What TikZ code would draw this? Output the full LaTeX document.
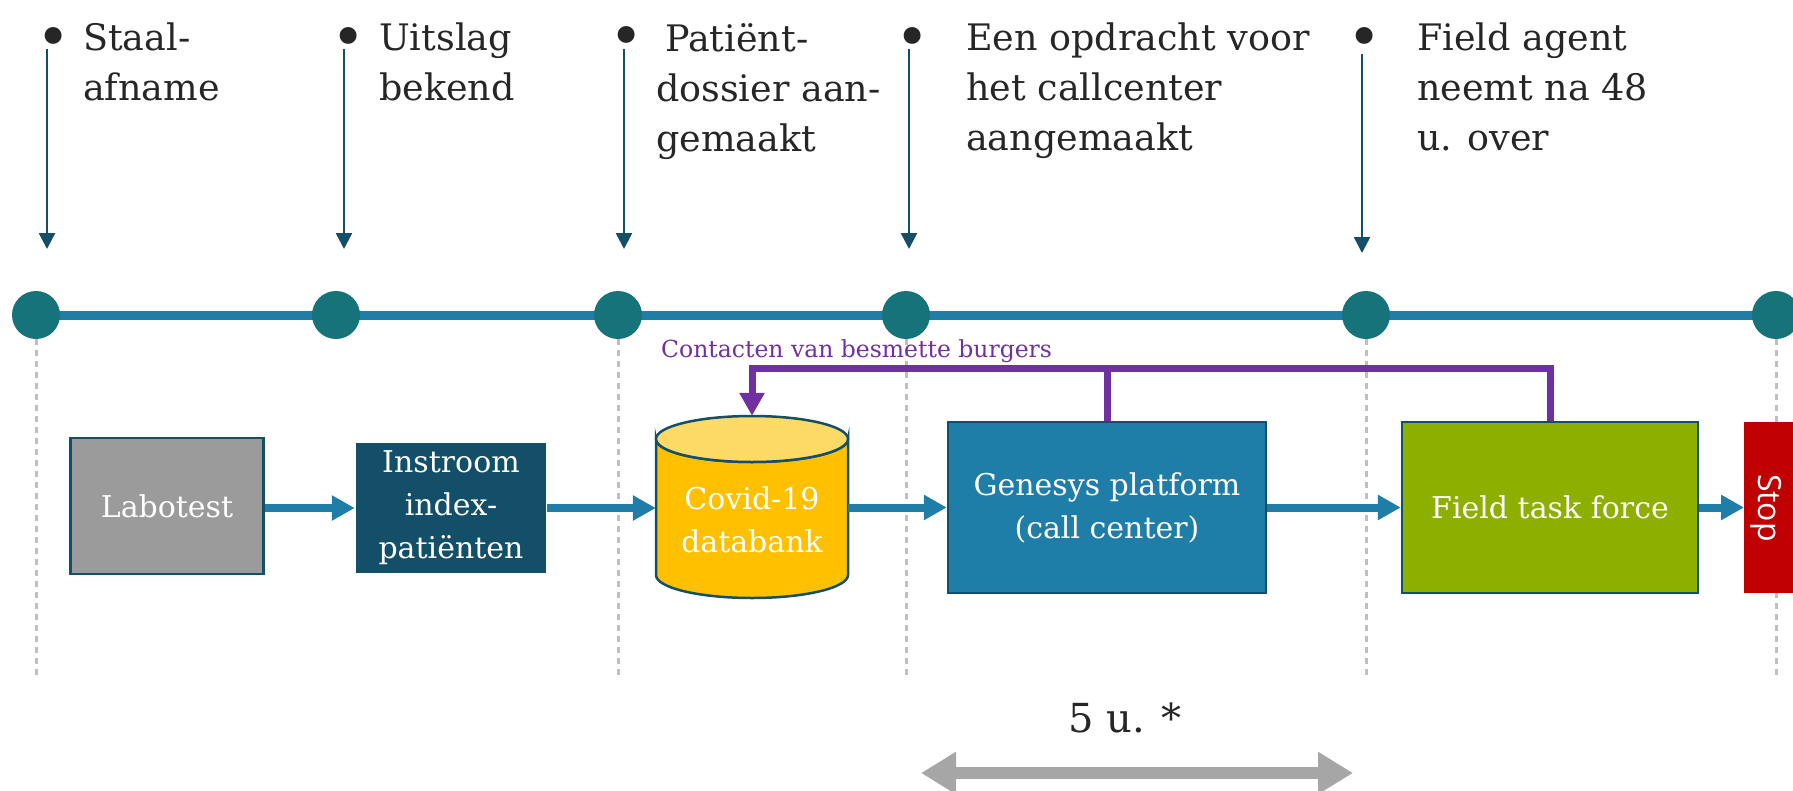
\documentclass[tikz,border=0pt]{standalone}
\usepackage{fontspec}
\setmainfont{DejaVu Serif}
\newfontfamily\stopfont{Open Sans}
\usetikzlibrary{arrows.meta,backgrounds}
\definecolor{txt}{HTML}{262626}
\definecolor{darkblue}{HTML}{134F68}
\definecolor{tealc}{HTML}{17737A}
\definecolor{lineblue}{HTML}{1F7EA8}
\definecolor{purp}{HTML}{7030A0}
\definecolor{gold}{HTML}{FFC000}
\definecolor{goldtop}{HTML}{FDD966}
\definecolor{olive}{HTML}{8CAF00}
\definecolor{stopred}{HTML}{C00000}
\definecolor{boxgrey}{HTML}{9B9B9B}
\definecolor{arrgrey}{HTML}{A6A6A6}
\definecolor{dotgrey}{HTML}{BFBFBF}
\tikzset{
  dotcircle/.style={circle, fill=tealc, minimum size=48pt, inner sep=0pt},
  toptext/.style={anchor=north west, inner sep=0pt, align=left, text=txt, font=\fontsize{36.5}{50}\selectfont},
  bul/.style={inner sep=0pt, anchor=base, text=txt, font=\fontsize{58}{58}\selectfont},
  downarrow/.style={darkblue, line width=2.5pt, -{Triangle[length=16pt,width=16pt]}},
  guide/.style={dotgrey, line width=3pt, dash pattern=on 6pt off 5pt},
  procbox/.style={rectangle, draw=darkblue, line width=2.5pt, text=white, align=center, inner sep=0pt, font=\fontsize{30}{43}\selectfont},
  flow/.style={lineblue, line width=8pt, -{Triangle[length=23pt,width=24pt]}},
  feedback/.style={purp, line width=7pt},
}
\begin{document}
\begin{tikzpicture}[x=1pt,y=-1pt]
\useasboundingbox (0,0) rectangle (1793,790);
\clip (0,0) rectangle (1793,790);

% timeline circles
\node[dotcircle] (c1) at (36,315) {};
\node[dotcircle] (c2) at (336,315) {};
\node[dotcircle] (c3) at (618,315) {};
\node[dotcircle] (c4) at (906,315) {};
\node[dotcircle] (c5) at (1366,315) {};
\node[dotcircle] (c6) at (1776,315) {};
\begin{scope}[on background layer]
\draw[lineblue, line width=9pt] (c1.center) -- (c6.center);
\end{scope}

% guide lines
\coordinate (g1) at (36,675);
\coordinate (g3) at (618,675);
\coordinate (g4) at (906,675);
\coordinate (g5) at (1366,675);
\coordinate (g6) at (1776,675);
\draw[guide] (c1.south) -- (g1);
\draw[guide] (c3.south) -- (g3);
\draw[guide] (c4.south) -- (g4);
\draw[guide] (c5.south) -- (g5);
\draw[guide] (c6.south) -- (g6);

% top texts
\node[bul] (b1) at (53.5,57) {•};
\node[bul] (b2) at (349,57) {•};
\node[bul] (b3) at (627,56) {•};
\node[bul] (b4) at (913,57) {•};
\node[bul] (b5) at (1365,57) {•};
\node[toptext] (t1) at (83,23) {Staal-\\afname};
\node[toptext] (t2) at (379,23) {Uitslag\\bekend};
\node[toptext] (t3) at (656,23) {\hspace{9pt}Patiënt-\\dossier aan-\\gemaakt};
\node[toptext] (t4) at (966,23) {Een opdracht voor\\het callcenter\\aangemaakt};
\node[toptext] (t5) at (1417,23) {Field agent\\neemt na 48\\u. over};

\coordinate (a1s) at (47,49);   \coordinate (a1e) at (47,249);
\coordinate (a2s) at (344,49);  \coordinate (a2e) at (344,249);
\coordinate (a3s) at (624,49);  \coordinate (a3e) at (624,249);
\coordinate (a4s) at (909,49);  \coordinate (a4e) at (909,249);
\coordinate (a5s) at (1362,54); \coordinate (a5e) at (1362,253);
\draw[downarrow] (a1s) -- (a1e);
\draw[downarrow] (a2s) -- (a2e);
\draw[downarrow] (a3s) -- (a3e);
\draw[downarrow] (a4s) -- (a4e);
\draw[downarrow] (a5s) -- (a5e);

% process boxes
\node[procbox, fill=boxgrey, minimum width=193pt, minimum height=136pt] (labo) at (167,506) {Labotest};
\node[procbox, fill=darkblue, draw=none, minimum width=190pt, minimum height=130pt] (instr) at (451,508) {Instroom\\index-\\patiënten};
\node[minimum width=192pt, minimum height=182pt, inner sep=0pt] (db) at (752,507) {};
\begin{scope}[on background layer]
\filldraw[fill=gold, draw=darkblue, line width=2.5pt] (656,439) -- (656,575) arc[start angle=180, end angle=0, x radius=96, y radius=23] -- (848,439) arc[start angle=0, end angle=180, x radius=96, y radius=23] -- cycle;
\filldraw[fill=goldtop, draw=darkblue, line width=2.5pt] (752,439) ellipse[x radius=96, y radius=23];
\end{scope}
\node[procbox, draw=none] (dbtxt) at (752,520) {Covid-19\\databank};
\node[procbox, fill=lineblue, minimum width=318pt, minimum height=171pt] (gen) at (1107,507.5) {Genesys platform\\(call center)};
\node[procbox, fill=olive, minimum width=296pt, minimum height=171pt] (field) at (1550,507.5) {Field task force};
\node[rectangle, fill=stopred, minimum width=60pt, minimum height=171pt, anchor=west, inner sep=0pt] (stop) at (1744,507.5) {};
\node[rotate=-90, text=white, font=\stopfont\fontsize{32}{40}\selectfont, inner sep=0pt] (stoptxt) at (1766,508) {Stop};

% flow arrows
\draw[flow] (labo.east |- instr.west) -- (instr.west);
\draw[flow] (instr.east) -- (instr.east -| db.west);
\draw[flow] (db.east |- gen.west) -- (gen.west);
\draw[flow] (gen.east) -- (field.west);
\draw[flow] (field.east) -- (stop.west);

% feedback
\coordinate (pj) at (1107,368);
\draw[feedback, -{Triangle[length=23pt,width=24pt]}] (field.north) |- (db.north |- pj) -- (db.north);
\draw[feedback] (gen.north) -- (gen.north |- pj);
\node[anchor=base west, text=purp, inner sep=0pt, font=\fontsize{23.5}{28}\selectfont] (lbl) at (661,357) {Contacten van besmette burgers};

% duration
\node[text=txt, font=\fontsize{40}{50}\selectfont, inner sep=0pt] (dur) at (1125,718) {5 u. *};
\coordinate (da) at (921,773);
\coordinate (db2) at (1353,773);
\draw[arrgrey, line width=12pt, {Triangle[length=35pt,width=40pt]}-{Triangle[length=35pt,width=40pt]}] (da) -- (db2);
\end{tikzpicture}
\end{document}
